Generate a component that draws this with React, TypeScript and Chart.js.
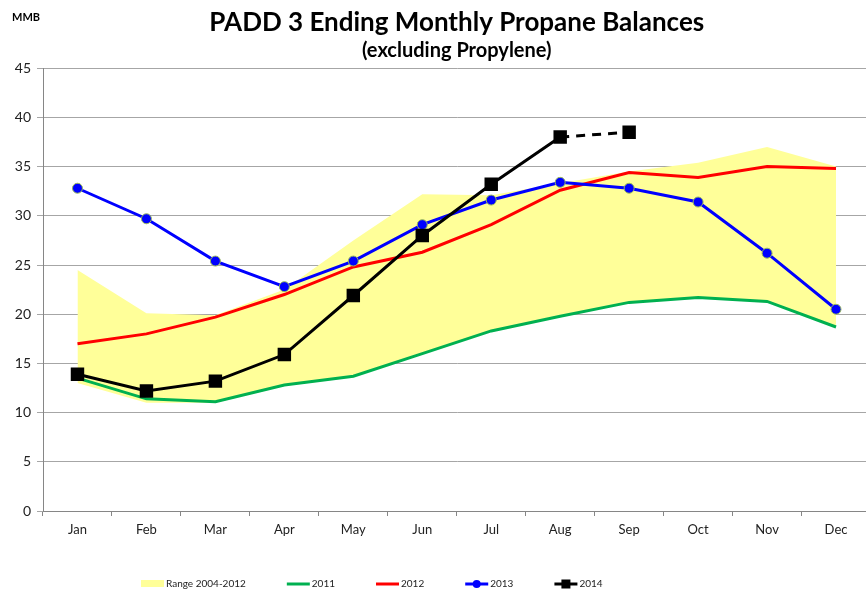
import React, { useEffect, useRef } from 'react';
import { Chart, registerables } from 'chart.js';
Chart.register(...registerables);

const months = ['Jan', 'Feb', 'Mar', 'Apr', 'May', 'Jun', 'Jul', 'Aug', 'Sep', 'Oct', 'Nov', 'Dec'];
const rangeLow = [13.0, 11.0, 11.0, 12.7, 13.6, 16.0, 18.3, 19.7, 21.2, 21.7, 21.3, 18.8];
const rangeHigh = [24.5, 20.1, 19.9, 22.5, 27.5, 32.2, 32.1, 33.3, 34.5, 35.4, 37.0, 35.0];
const y2011 = [13.5, 11.4, 11.1, 12.8, 13.7, 16.0, 18.3, 19.8, 21.2, 21.7, 21.3, 18.7];
const y2012 = [17.0, 18.0, 19.7, 22.0, 24.8, 26.3, 29.1, 32.6, 34.4, 33.9, 35.0, 34.8];
const y2013 = [32.8, 29.7, 25.4, 22.8, 25.4, 29.1, 31.6, 33.4, 32.8, 31.4, 26.2, 20.5];
const y2014 = [13.9, 12.2, 13.2, 15.9, 21.9, 28.0, 33.2, 38.0, 38.5, null, null, null];
const yTicks = { min: 0, max: 45, step: 5 };
const unitLabel = 'MMB';
const titleText = 'PADD 3 Ending Monthly Propane Balances';
const subtitleText = '(excluding Propylene)';

const FONT = "Lato, 'Liberation Sans', sans-serif";

export default function App() {
  const ref = useRef<HTMLCanvasElement>(null);
  useEffect(() => {
    const canvas = ref.current!;
    const extras = {
      id: 'extras',
      afterDraw(chart: any) {
        const ctx = chart.ctx as CanvasRenderingContext2D;
        ctx.save();
        // unit label
        ctx.fillStyle = '#000';
        ctx.font = `bold 11px ${FONT}`;
        ctx.textAlign = 'left';
        ctx.textBaseline = 'middle';
        ctx.fillText(unitLabel, 12, 17);
        // legend
        const ds = chart.data.datasets.filter((d: any) => !d.noLegend);
        ctx.font = `10px ${FONT}`;
        const iconW = 23;
        const gapIconText = 2;
        const gap = 41;
        let x = chart.chartArea.left + 98;
        const y = 584;
        ds.forEach((d: any) => {
          const cx = x + iconW / 2;
          if (d.fill) {
            ctx.fillStyle = d.backgroundColor;
            ctx.fillRect(x, y - 4, iconW, 7);
          } else {
            ctx.strokeStyle = d.borderColor;
            ctx.lineWidth = 3;
            ctx.beginPath();
            ctx.moveTo(x, y);
            ctx.lineTo(x + iconW, y);
            ctx.stroke();
            if (d.pointStyle === 'circle') {
              ctx.fillStyle = d.pointBackgroundColor;
              ctx.beginPath();
              ctx.arc(cx, y, 4, 0, Math.PI * 2);
              ctx.fill();
            } else if (d.pointStyle === 'rect') {
              ctx.fillStyle = d.pointBackgroundColor;
              ctx.fillRect(cx - 4.5, y - 4.5, 9, 9);
            }
          }
          ctx.fillStyle = '#222';
          ctx.textAlign = 'left';
          ctx.textBaseline = 'middle';
          const tx = x + iconW + gapIconText;
          ctx.fillText(d.label, tx, y);
          x = tx + ctx.measureText(d.label).width + gap;
        });
        ctx.restore();
      },
    };

    const chart = new Chart(canvas, {
      type: 'line',
      data: {
        labels: months,
        datasets: [
          {
            label: 'low', noLegend: true, data: rangeLow, borderWidth: 0, pointRadius: 0,
            borderColor: 'rgba(0,0,0,0)', fill: false, order: 10,
          } as any,
          {
            label: 'Range 2004-2012', data: rangeHigh, borderWidth: 0, pointRadius: 0,
            borderColor: 'rgba(0,0,0,0)', backgroundColor: '#FFFF99', fill: '-1', order: 9,
          },
          {
            label: '2011', data: y2011, borderColor: '#00B050', borderWidth: 3, pointRadius: 0,
            fill: false, order: 4,
          },
          {
            label: '2012', data: y2012, borderColor: '#FF0000', borderWidth: 3, pointRadius: 0,
            fill: false, order: 3,
          },
          {
            label: '2013', data: y2013, borderColor: '#0000FF', borderWidth: 3, pointRadius: 5,
            pointStyle: 'circle', pointBackgroundColor: '#0000FF', pointBorderColor: '#9BBB59',
            pointBorderWidth: 1, fill: false, order: 2,
          },
          {
            label: '2014', data: y2014, borderColor: '#000000', borderWidth: 3, pointRadius: 9.5,
            pointStyle: 'rect', pointBackgroundColor: '#000000', pointBorderColor: '#000000',
            pointBorderWidth: 0, fill: false, order: 1,
            segment: { borderDash: (c: any) => (c.p0DataIndex === 7 ? [9, 7] : undefined) },
          },
        ],
      },
      options: {
        animation: false,
        responsive: false,
        layout: { padding: { left: 0, right: 7, top: 0, bottom: 40 } },
        plugins: {
          legend: { display: false },
          tooltip: { enabled: false },
          title: {
            display: true, text: titleText, color: '#000', fullSize: false,
            font: { family: FONT, size: 26, weight: 'bold' }, padding: { top: 7, bottom: 0 },
          },
          subtitle: {
            display: true, text: subtitleText, color: '#000', fullSize: false,
            font: { family: FONT, size: 20, weight: 'bold' }, padding: { top: 0, bottom: 6 },
          },
        },
        scales: {
          x: {
            offset: true,
            grid: { offset: true, drawOnChartArea: false, drawTicks: true, tickLength: 5, color: '#868686' },
            border: { color: '#868686', width: 1 },
            ticks: { color: '#222', font: { family: FONT, size: 13 }, padding: 6 },
            afterFit: (a: any) => { a.height = 40; },
          },
          y: {
            min: yTicks.min, max: yTicks.max,
            ticks: { stepSize: yTicks.step, color: '#222', font: { family: FONT, size: 14 }, padding: 6 },
            grid: { color: '#A6A6A6', tickLength: 6, lineWidth: 1 },
            border: { color: '#868686', width: 1 },
            afterFit: (a: any) => { a.width = 43; },
          },
        },
      },
      plugins: [extras],
    } as any);
    return () => chart.destroy();
  }, []);
  return (
    <div style={{ position: 'fixed', left: 0, top: 0, width: 866, height: 591, overflow: 'hidden', background: '#fff' }}>
      <canvas ref={ref} width={880} height={591} />
    </div>
  );
}
